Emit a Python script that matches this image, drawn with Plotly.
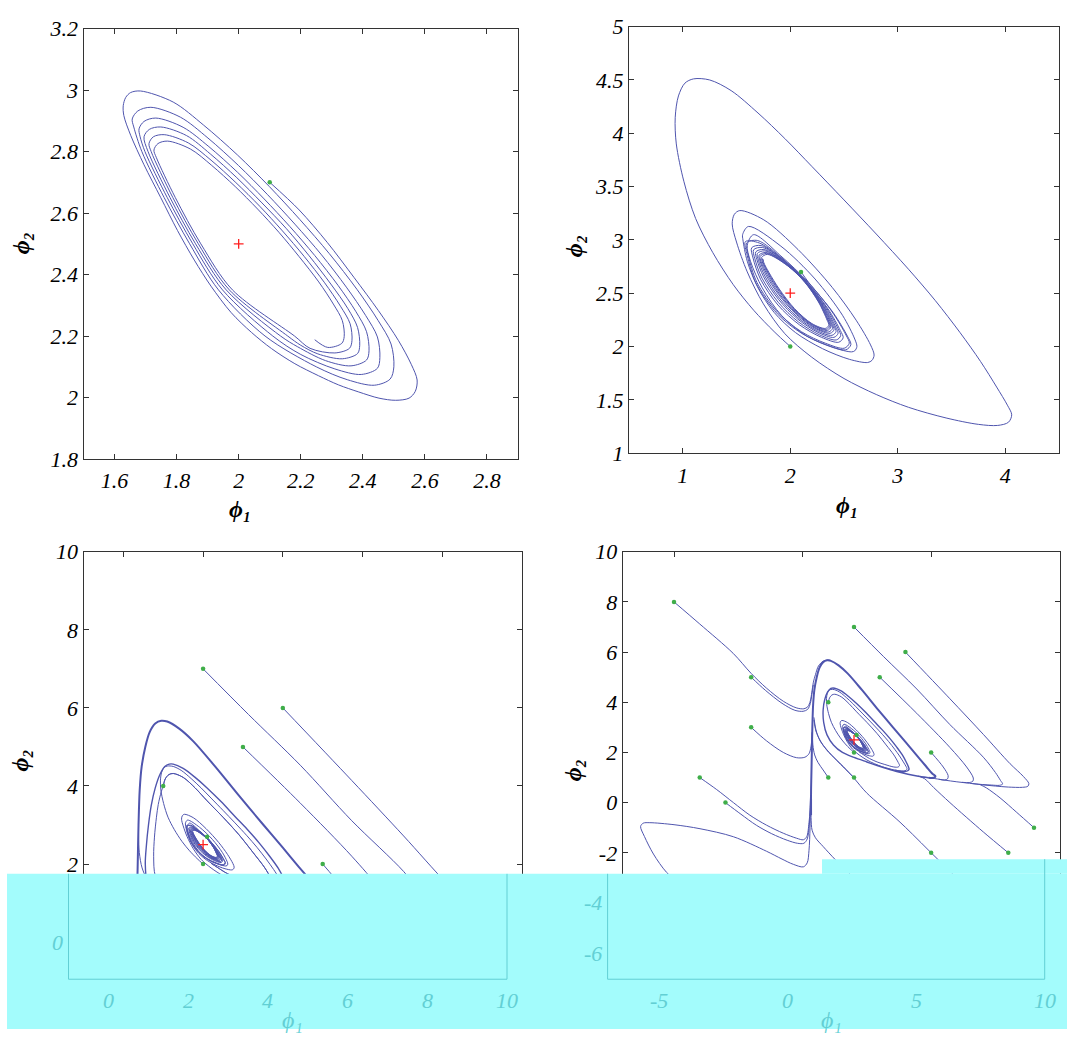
import plotly.graph_objects as go

# ---------------------------------------------------------------------------
# Phase-plane portraits (phi_1, phi_2) of the two-species reaction model.
# Each curve is a list of (phi_1, phi_2) points, green dots are the initial
# states and the red cross is the steady state.
# ---------------------------------------------------------------------------

STEADY_STATE = (2.0, 2.5)

# ---------------- panel (a): one start close to the steady state -------------
A_STARTS = [(2.1, 2.7)]
A_TRAJ = [
    # first sweep from the start point round the widest turn
    (2.100, 2.700), (2.195, 2.610), (2.285, 2.505), (2.372, 2.390), (2.450, 2.283),
    (2.515, 2.185), (2.556, 2.108), (2.575, 2.057), (2.569, 2.020), (2.549, 1.998),
    (2.506, 1.991), (2.452, 1.998), (2.387, 2.018), (2.322, 2.041), (2.257, 2.071),
    (2.181, 2.110), (2.106, 2.159), (2.041, 2.212), (1.976, 2.276), (1.911, 2.362),
    (1.857, 2.447), (1.803, 2.543), (1.749, 2.650), (1.695, 2.757), (1.652, 2.853),
    (1.630, 2.917), (1.628, 2.949), (1.636, 2.976), (1.652, 2.992), (1.684, 2.997),
    (1.789, 2.961), (1.887, 2.886), (1.996, 2.789), (2.099, 2.686), (2.197, 2.579),
    (2.292, 2.468), (2.381, 2.352), (2.449, 2.251), (2.491, 2.174), (2.500, 2.100),
    (2.488, 2.060), (2.437, 2.040),
    # second turn
    (2.350, 2.058), (2.250, 2.100), (2.085, 2.200), (1.935, 2.350), (1.842, 2.500),
    (1.760, 2.650), (1.688, 2.800), (1.662, 2.880), (1.657, 2.906), (1.675, 2.932),
    (1.717, 2.944), (1.812, 2.912), (1.901, 2.844), (1.999, 2.755), (2.092, 2.661),
    (2.181, 2.564), (2.267, 2.464), (2.347, 2.359), (2.409, 2.267), (2.447, 2.197),
    (2.455, 2.130), (2.447, 2.095), (2.395, 2.075),
    # third turn
    (2.310, 2.093), (2.200, 2.140), (2.110, 2.200), (1.948, 2.350), (1.852, 2.500),
    (1.770, 2.650), (1.698, 2.800), (1.682, 2.850), (1.679, 2.874), (1.695, 2.898),
    (1.733, 2.909), (1.821, 2.879), (1.904, 2.816), (1.996, 2.733), (2.082, 2.646),
    (2.165, 2.556), (2.245, 2.462), (2.320, 2.365), (2.378, 2.279), (2.412, 2.214),
    (2.420, 2.152), (2.412, 2.122), (2.362, 2.103),
    # fourth turn
    (2.280, 2.120), (2.190, 2.165), (2.135, 2.200), (1.960, 2.350), (1.861, 2.500),
    (1.779, 2.650), (1.708, 2.800), (1.695, 2.848), (1.712, 2.872), (1.749, 2.880),
    (1.832, 2.852), (1.909, 2.792), (1.994, 2.715), (2.075, 2.633), (2.154, 2.549),
    (2.227, 2.461), (2.297, 2.369), (2.352, 2.289), (2.383, 2.228), (2.390, 2.170),
    (2.383, 2.143), (2.334, 2.126),
    # fifth turn
    (2.255, 2.142), (2.200, 2.170), (2.158, 2.200), (1.970, 2.350), (1.870, 2.500),
    (1.788, 2.650), (1.718, 2.800), (1.711, 2.826), (1.725, 2.848), (1.760, 2.855),
    (1.838, 2.828), (1.911, 2.772), (1.991, 2.699), (2.068, 2.622), (2.141, 2.542),
    (2.211, 2.459), (2.277, 2.373), (2.328, 2.297), (2.359, 2.240), (2.365, 2.185),
    (2.357, 2.160), (2.310, 2.145),
    # sixth turn and end point
    (2.230, 2.160), (2.180, 2.200), (1.980, 2.350), (1.878, 2.500), (1.796, 2.650),
    (1.735, 2.780), (1.727, 2.805), (1.740, 2.826), (1.771, 2.834),
    (1.845, 2.808), (1.913, 2.755), (1.989, 2.686), (2.061, 2.613), (2.130, 2.537),
    (2.195, 2.458), (2.258, 2.376), (2.305, 2.304), (2.334, 2.250), (2.340, 2.198),
    (2.332, 2.176), (2.287, 2.163), (2.245, 2.188),
]

# ---------------- panel (b): starts (2, 2) and (2.1, 2.7) --------------------
B_STARTS = [(2.0, 2.0), (2.1, 2.7)]
B_BIG = [
    (2.00, 2.00), (1.85, 2.14), (1.66, 2.34), (1.47, 2.58), (1.28, 2.88), (1.12, 3.20),
    (1.01, 3.55), (0.94, 3.90), (0.93, 4.15), (0.96, 4.35), (1.02, 4.47), (1.10, 4.51),
    (1.25, 4.50), (1.45, 4.40), (1.70, 4.19), (1.95, 3.95), (2.20, 3.69), (2.50, 3.375),
    (2.80, 3.055), (3.10, 2.725), (3.35, 2.43), (3.58, 2.13), (3.77, 1.86), (3.92, 1.62),
    (4.02, 1.45), (4.06, 1.36), (4.03, 1.29), (3.93, 1.26), (3.75, 1.27), (3.45, 1.33),
    (3.10, 1.43), (2.80, 1.55), (2.50, 1.70), (2.20, 1.90), (1.95, 2.12), (1.75, 2.40),
    (1.60, 2.70), (1.50, 2.98), (1.46, 3.15), (1.48, 3.24),
]
B_MEDIUM = [
    (1.531, 3.275), (1.754, 3.188), (2.072, 2.910), (2.390, 2.555), (2.613, 2.247),
    (2.747, 2.015), (2.780, 1.920), (2.760, 1.870), (2.720, 1.850), (2.550, 1.880),
    (2.300, 1.980), (2.050, 2.130), (1.850, 2.320), (1.700, 2.550), (1.600, 2.800),
    (1.560, 3.000), (1.557, 3.050),
]
B_THIRD = [
    (1.611, 3.126), (1.913, 2.941), (2.231, 2.633), (2.486, 2.293), (2.600, 2.070),
    (2.620, 2.000), (2.600, 1.960), (2.570, 1.950), (2.400, 1.990), (2.150, 2.100),
    (1.920, 2.290), (1.740, 2.550), (1.630, 2.800), (1.600, 2.950),
]
# successive turns inside the attracting band (outer edge -> inner edge)
BAND_0 = [(1.659, 3.049), (1.913, 2.849), (2.168, 2.602), (2.390, 2.324), (2.518, 2.108),
          (2.549, 2.031), (2.502, 1.984), (2.327, 2.031), (2.104, 2.139), (1.881, 2.324),
          (1.690, 2.602), (1.611, 2.849), (1.595, 2.972)]
BAND_1 = [(1.697, 2.994), (1.932, 2.821), (2.158, 2.602), (2.352, 2.352), (2.466, 2.150),
          (2.492, 2.082), (2.450, 2.040), (2.289, 2.087), (2.085, 2.204), (1.886, 2.389),
          (1.724, 2.630), (1.654, 2.830), (1.641, 2.926)]
BAND_2 = [(1.729, 2.947), (1.948, 2.798), (2.150, 2.602), (2.320, 2.375), (2.422, 2.184),
          (2.445, 2.124), (2.406, 2.086), (2.257, 2.133), (2.069, 2.258), (1.890, 2.443),
          (1.752, 2.653), (1.690, 2.815), (1.679, 2.887)]
BAND_3 = [(1.754, 2.910), (1.961, 2.779), (2.144, 2.602), (2.295, 2.394), (2.387, 2.212),
          (2.407, 2.158), (2.371, 2.124), (2.232, 2.170), (2.056, 2.301), (1.893, 2.486),
          (1.774, 2.671), (1.718, 2.803), (1.710, 2.857)]
BAND_4 = [(1.773, 2.882), (1.971, 2.765), (2.139, 2.602), (2.276, 2.408), (2.360, 2.233),
          (2.378, 2.183), (2.345, 2.151), (2.213, 2.198), (2.046, 2.333), (1.895, 2.518),
          (1.791, 2.685), (1.740, 2.793), (1.733, 2.834)]
BAND_5 = [(1.786, 2.864), (1.977, 2.756), (2.136, 2.602), (2.263, 2.417), (2.343, 2.247),
          (2.359, 2.200), (2.327, 2.170), (2.200, 2.216), (2.040, 2.355), (1.897, 2.540),
          (1.802, 2.694), (1.754, 2.787), (1.748, 2.818)]
# second start (2.1, 2.7): first pass just outside the band, then turns inward
B_ENTRY = [(2.100, 2.700), (2.171, 2.602), (2.400, 2.317), (2.532, 2.097), (2.564, 2.017),
           (2.516, 1.969), (2.337, 2.016), (2.109, 2.122), (1.880, 2.307), (1.681, 2.595),
           (1.600, 2.854), (1.583, 2.984)]
BAND_6 = [(1.712, 2.971), (1.940, 2.810), (2.155, 2.602), (2.337, 2.363), (2.445, 2.166),
          (2.469, 2.102), (2.429, 2.062), (2.274, 2.109), (2.077, 2.230), (1.888, 2.415),
          (1.737, 2.641), (1.671, 2.823), (1.659, 2.907)]
BAND_7 = [(1.742, 2.929), (1.955, 2.789), (2.147, 2.602), (2.307, 2.384), (2.404, 2.198),
          (2.426, 2.141), (2.388, 2.105), (2.245, 2.151), (2.062, 2.279), (1.891, 2.464),
          (1.763, 2.662), (1.704, 2.809), (1.694, 2.872)]
BAND_8 = [(1.763, 2.897), (1.965, 2.773), (2.142, 2.602), (2.286, 2.400), (2.374, 2.222),
          (2.393, 2.170), (2.358, 2.137), (2.223, 2.183), (2.052, 2.316), (1.894, 2.501),
          (1.784, 2.677), (1.728, 2.798), (1.720, 2.846)]
BAND_9 = [(1.780, 2.873), (1.974, 2.760), (2.138, 2.602), (2.269, 2.412), (2.352, 2.240),
          (2.369, 2.192), (2.336, 2.161), (2.206, 2.207), (2.043, 2.344), (1.896, 2.529),
          (1.797, 2.689), (1.747, 2.790), (1.741, 2.826)]

# ---------------- panels (c) and (d): wide grid of initial states ------------
C_STARTS = [(2, 7), (4, 6), (3, 5), (1, 4), (5, 2), (2, 2), (2.1, 2.7), (1, 1), (2, 1)]
D_STARTS = [(-5, 8), (-2, 5), (-2, 3), (-4, 1), (-3, 0), (1, 4), (1, 1), (2, 7), (4, 6),
            (3, 5), (2, 2), (2.1, 2.7), (5, 2), (2, 1), (9, -1), (8, -2), (5, -2),
            (-4, -4), (3, -4), (7, -4)]

S_2_7 = [(2, 7), (3.14, 5.83), (4.44, 4.53), (5.73, 3.11), (7.03, 1.81), (7.50, 1.20),
         (7.70, 0.88), (7.78, 0.74), (7.66, 0.69), (7.35, 0.70), (7.00, 0.72), (6.60, 0.76)]
S_4_6 = [(4, 6), (5.73, 4.14), (7.03, 2.72), (8.07, 1.55), (8.59, 1.04), (8.80, 0.76),
         (8.76, 0.65), (8.55, 0.61), (8.00, 0.62), (7.50, 0.66), (7.00, 0.71), (6.50, 0.77),
         (6.00, 0.83), (5.50, 0.90), (5.00, 0.98), (4.60, 1.03)]
S_3_5 = [(3, 5), (4.44, 3.56), (5.73, 2.20), (6.38, 1.42), (6.64, 0.98), (6.62, 0.85),
         (6.48, 0.80), (6.20, 0.81)]
S_5_2 = [(5, 2), (5.47, 1.42), (5.66, 1.08), (5.64, 0.95), (5.52, 0.90), (5.30, 0.93)]
S_1_4 = [(1, 4), (1.05, 4.18), (1.14, 4.29), (1.25, 4.32), (1.50, 4.22), (1.80, 3.95),
         (2.10, 3.62), (2.50, 3.20), (2.90, 2.75), (3.25, 2.30), (3.55, 1.90), (3.72, 1.60),
         (3.77, 1.48), (3.72, 1.42), (3.55, 1.42), (3.20, 1.52), (2.90, 1.62), (2.60, 1.76),
         (2.35, 1.92), (2.20, 2.02)]
S_1_1 = [(1, 1), (0.80, 1.30), (0.60, 1.60), (0.47, 1.90), (0.40, 2.30), (0.38, 2.80)]
# (2, 1): in (c) it climbs into the inner loop through (1, 4), in (d) it joins the rise
C_S_2_1 = [(2, 1), (1.50, 1.10), (1.00, 1.35), (0.80, 1.70), (0.76, 2.20), (0.78, 2.69),
           (0.83, 3.20), (0.875, 3.525), (0.95, 3.85)]
D_S_2_1 = [(2, 1), (1.62, 1.38), (1.33, 1.68), (0.95, 2.10), (0.68, 2.46), (0.52, 2.90),
           (0.44, 3.40)]
# rise along phi_1 ~ 1/3, large excursion, return along the bottom
VERTICAL_LOOP = [
    (0.33, -0.50), (0.33, 0.50), (0.34, 1.00), (0.36, 2.00), (0.38, 3.00), (0.41, 3.90),
    (0.46, 4.50), (0.55, 5.00), (0.66, 5.38), (0.80, 5.60), (0.95, 5.67), (1.10, 5.65),
    (1.40, 5.47), (1.75, 5.15), (2.30, 4.50), (2.90, 3.75), (3.50, 3.02), (4.00, 2.42),
    (4.40, 1.93), (4.80, 1.45), (5.05, 1.15), (5.17, 1.05), (5.10, 0.99), (4.90, 0.99),
]
RETURN_UPPER = [
    (1.25, 4.56), (1.50, 4.45), (1.80, 4.22), (2.10, 3.95), (2.45, 3.60), (2.80, 3.22),
    (3.10, 2.90), (3.40, 2.55), (3.67, 2.20), (3.88, 1.90), (4.03, 1.62), (4.12, 1.42),
    (4.14, 1.33), (4.09, 1.27), (3.98, 1.24), (3.80, 1.25), (3.60, 1.29),
]
C_RETURN_LOWER = [
    (4.90, 0.99), (4.50, 1.00), (3.80, 0.95), (3.00, 0.85), (2.00, 0.80), (1.30, 0.85),
    (0.80, 1.10), (0.60, 1.50), (0.55, 2.00), (0.58, 2.50), (0.63, 3.00), (0.70, 3.50),
    (0.80, 3.95), (0.92, 4.30), (1.04, 4.50), (1.15, 4.56),
]
D_RETURN_LOWER = [
    (4.90, 0.99), (4.50, 1.05), (4.10, 1.13), (3.70, 1.23), (3.30, 1.35), (2.90, 1.48),
    (2.50, 1.62), (2.00, 1.80), (1.55, 2.00), (1.20, 2.30), (0.95, 2.70), (0.82, 3.20),
    (0.80, 3.70), (0.86, 4.10), (0.97, 4.40), (1.10, 4.55),
]
# panel (d) only: starts with negative phi_1 or phi_2
D_M5_8 = [(-5, 8), (-4.0, 7.12), (-2.7, 5.95), (-2.0, 5.15), (-1.4, 4.56), (-0.75, 4.04),
          (-0.25, 3.78), (0.05, 3.74), (0.20, 3.82), (0.30, 4.05), (0.36, 4.40), (0.42, 4.80),
          (0.50, 5.10), (0.62, 5.45), (0.80, 5.64), (0.95, 5.69), (1.10, 5.67)]
D_M2_5 = [(-2, 5), (-1.45, 4.48), (-0.8, 3.96), (-0.3, 3.68), (0.02, 3.64), (0.20, 3.72),
          (0.30, 3.95), (0.36, 4.30), (0.42, 4.70)]
D_M2_3 = [(-2, 3), (-1.4, 2.46), (-0.75, 2.00), (-0.23, 1.79), (0.09, 1.81), (0.25, 1.95),
          (0.33, 2.25), (0.37, 2.80)]
D_M4_1 = [(-4, 1), (-3.34, 0.52), (-2.69, 0.0), (-2.05, -0.5), (-1.4, -0.9), (-0.75, -1.22),
          (-0.23, -1.42), (0.03, -1.48), (0.16, -1.36), (0.25, -0.80), (0.29, -0.30),
          (0.31, 0.30)]
D_M3_0 = [(-3, 0), (-2.4, -0.46), (-1.8, -0.9), (-1.2, -1.24), (-0.6, -1.5), (-0.2, -1.62),
          (0.05, -1.62), (0.18, -1.45), (0.26, -0.90), (0.29, -0.40), (0.31, 0.30)]
D_M4_M4 = [(-4, -4), (-4.6, -3.4), (-5.29, -2.78), (-5.8, -2.05), (-6.15, -1.35),
           (-6.3, -0.95), (-6.2, -0.82), (-5.94, -0.80), (-5.0, -0.88), (-3.99, -1.04),
           (-2.69, -1.36), (-1.4, -1.94), (-0.8, -2.25), (-0.36, -2.46), (0.03, -2.56),
           (0.18, -2.40), (0.25, -1.90), (0.29, -1.00), (0.31, 0.0)]
D_3_M4 = [(3, -4), (2.3, -3.3), (1.7, -2.7), (1.26, -2.26), (0.8, -1.75), (0.5, -1.4),
          (0.37, -1.1), (0.33, -0.6), (0.33, 0.0)]
D_5_M2 = [(5, -2), (3.79, -0.78), (2.49, 0.39), (2.02, 0.95), (1.6, 1.42), (1.3, 1.72),
          (0.95, 2.08), (0.7, 2.45), (0.52, 2.85), (0.44, 3.30)]
D_7_M4 = [(7, -4), (6, -3), (5, -2)]
D_8_M2 = [(8, -2), (7.03, -1.17), (5.73, 0.0), (5.1, 0.6), (4.75, 0.95), (4.5, 1.06)]
D_9_M1 = [(9, -1), (8.33, -0.39), (7.68, 0.19), (7.16, 0.58), (6.9, 0.72)]

# ---------------- axes ------------------------------------------------------
A_XTICKS, A_XTEXT = [1.6, 1.8, 2.0, 2.2, 2.4, 2.6, 2.8], ['1.6', '1.8', '2', '2.2', '2.4', '2.6', '2.8']
A_YTICKS, A_YTEXT = [1.8, 2.0, 2.2, 2.4, 2.6, 2.8, 3.0, 3.2], ['1.8', '2', '2.2', '2.4', '2.6', '2.8', '3', '3.2']
B_XTICKS, B_XTEXT = [1, 2, 3, 4], ['1', '2', '3', '4']
B_YTICKS, B_YTEXT = [1, 1.5, 2, 2.5, 3, 3.5, 4, 4.5, 5], ['1', '1.5', '2', '2.5', '3', '3.5', '4', '4.5', '5']
C_XTICKS, C_XTEXT = [0, 2, 4, 6, 8, 10], ['0', '2', '4', '6', '8', '10']
C_YTICKS, C_YTEXT = [2, 4, 6, 8, 10], ['2', '4', '6', '8', '10']
C_YFADED, C_YFADED_TEXT = [0], ['0']
D_XTICKS, D_XTEXT = [-5, 0, 5, 10], ['-5', '0', '5', '10']
D_YTICKS, D_YTEXT = [-2, 0, 2, 4, 6, 8, 10], ['-2', '0', '2', '4', '6', '8', '10']
D_YFADED, D_YFADED_TEXT = [-6, -4], ['-6', '-4']
PHI1, PHI2 = 'ϕ₁', 'ϕ₂'

W, H = 1067, 1042
LINE = '#4f55ae'
GREEN = '#3fae49'
RED = '#ff2020'
AXIS = '#333333'
CYAN = '#a3fcfc'
TEAL = '#62cfd4'
FONT = 'Liberation Serif'

# plot boxes in pixels: (left, right), (top, bottom)
PANELS = {
    '':  dict(px=(83.5, 518.0), py=(17.0, 458.0), xr=[1.5, 2.9], yr=[1.8, 3.2],
              xt=(A_XTICKS, A_XTEXT), yt=(A_YTICKS, A_YTEXT), xlabels=True),
    '2': dict(px=(629.0, 1059.0), py=(15.0, 452.0), xr=[0.5, 4.5], yr=[1.0, 5.0],
              xt=(B_XTICKS, B_XTEXT), yt=(B_YTICKS, B_YTEXT), xlabels=True),
    '3': dict(px=(83.5, 522.0), py=(553.0, 993.0), xr=[-1, 10], yr=[-1, 10],
              xt=(C_XTICKS, C_XTEXT), yt=(C_YTICKS, C_YTEXT), xlabels=False,
              faded_y=(C_YFADED, C_YFADED_TEXT)),
    '4': dict(px=(622.6, 1059.7), py=(553.0, 990.0), xr=[-7, 10], yr=[-7, 10],
              xt=(D_XTICKS, D_XTEXT), yt=(D_YTICKS, D_YTEXT), xlabels=False,
              faded_y=(D_YFADED, D_YFADED_TEXT)),
}

fig = go.Figure()


def curve(pts, ax, width=1.0):
    xs, ys = zip(*pts)
    fig.add_trace(go.Scatter(
        x=list(xs), y=list(ys), mode='lines', xaxis='x' + ax, yaxis='y' + ax,
        line=dict(color=LINE, width=width, shape='spline', smoothing=0.9),
        hoverinfo='skip', showlegend=False))


def markers(starts, ax):
    xs, ys = zip(*starts)
    fig.add_trace(go.Scatter(
        x=list(xs), y=list(ys), mode='markers', xaxis='x' + ax, yaxis='y' + ax,
        marker=dict(symbol='circle', size=4.5, color=GREEN),
        hoverinfo='skip', showlegend=False))
    fig.add_trace(go.Scatter(
        x=[STEADY_STATE[0]], y=[STEADY_STATE[1]], mode='markers',
        xaxis='x' + ax, yaxis='y' + ax,
        marker=dict(symbol='cross-thin', size=7, color=RED, line=dict(color=RED, width=1.3)),
        hoverinfo='skip', showlegend=False))


INNER_SPIRAL = B_BIG + B_MEDIUM + B_THIRD + BAND_0 + BAND_1 + BAND_2 + BAND_3 + BAND_4 + BAND_5
ENTRY_SPIRAL = B_ENTRY + BAND_6 + BAND_7 + BAND_8 + BAND_9

# (a)
curve(A_TRAJ, '')
markers(A_STARTS, '')

# (b)
curve(INNER_SPIRAL, '2')
curve(ENTRY_SPIRAL, '2')
markers(B_STARTS, '2')

# (c) and (d) share the trajectories launched from the positive quadrant
for ax in ('3', '4'):
    curve(INNER_SPIRAL, ax)
    curve(ENTRY_SPIRAL, ax)
    for path in (S_2_7, S_4_6, S_3_5, S_5_2, S_1_4, S_1_1):
        curve(path, ax)
    curve(VERTICAL_LOOP, ax, width=2.0)

curve(C_S_2_1 + S_1_4, '3')
curve(C_RETURN_LOWER + RETURN_UPPER, '3', width=1.4)
curve(D_S_2_1, '4')
curve(D_RETURN_LOWER + RETURN_UPPER, '4', width=1.4)

for path in (D_M5_8, D_M2_5, D_M2_3, D_M4_1, D_M3_0, D_M4_M4, D_3_M4, D_5_M2,
             D_7_M4, D_8_M2, D_9_M1):
    curve(path, '4')

markers(C_STARTS, '3')
markers(D_STARTS, '4')

# ---------------- axes layout ----------------------------------------------
layout = dict(width=W, height=H, margin=dict(l=0, r=0, t=0, b=0),
              paper_bgcolor='white', plot_bgcolor='white', showlegend=False)
tick_font = dict(family=FONT, size=22, color='black', style='italic')
for ax, p in PANELS.items():
    common = dict(showline=True, linecolor=AXIS, linewidth=1, mirror='ticks',
                  ticks='inside', ticklen=5, tickcolor=AXIS, showgrid=False,
                  zeroline=False, tickfont=tick_font, fixedrange=True)
    layout['xaxis' + ax] = dict(
        common, domain=[p['px'][0] / W, p['px'][1] / W], range=p['xr'],
        tickmode='array', tickvals=p['xt'][0], ticktext=p['xt'][1],
        showticklabels=p['xlabels'], anchor='y' + ax, ticklabelstandoff=2)
    layout['yaxis' + ax] = dict(
        common, domain=[1 - p['py'][1] / H, 1 - p['py'][0] / H], range=p['yr'],
        tickmode='array', tickvals=p['yt'][0], ticktext=p['yt'][1],
        anchor='x' + ax)
fig.update_layout(**layout)


def note(text, x, y, color='black', size=24, angle=0, anchor='center', weight='normal'):
    fig.add_annotation(
        text=text, x=x / W, y=1 - y / H, xref='paper', yref='paper',
        showarrow=False, textangle=angle, xanchor=anchor, yanchor='middle',
        font=dict(family=FONT, size=size, color=color, style='italic', weight=weight))


# axis titles of the upper row and the y titles of the lower row
note(PHI1, 240, 509, weight='bold')
note(PHI2, 21, 237, angle=-90, weight='bold')
note(PHI1, 847, 505, weight='bold')
note(PHI2, 574, 240, angle=-90, weight='bold')
note(PHI2, 20, 767, angle=-90, weight='bold')
note(PHI2, 573, 777, angle=-90, weight='bold')

# ---------------- cyan band over the lower part ------------------------------
shapes = [
    dict(type='rect', xref='paper', yref='paper', x0=7 / W, x1=1, y0=0, y1=1 - 883 / H,
         fillcolor=CYAN, line=dict(width=0), layer='above'),
    dict(type='rect', xref='paper', yref='paper', x0=822 / W, x1=1, y0=1 - 883 / H,
         y1=1 - 868 / H, fillcolor=CYAN, line=dict(width=0), layer='above'),
]
SHIFT = -15.0   # the faded copy of the lower axes sits a little to the left
copy_bottom = 991.0
for ax in ('3', '4'):
    p = PANELS[ax]
    top = 883.0
    left, right = p['px'][0] + SHIFT, p['px'][1] + SHIFT
    right_top = 868.0 if ax == '4' else top
    for x0, y0, x1, y1 in ((left, top, left, copy_bottom),
                           (right, right_top, right, copy_bottom),
                           (left, copy_bottom, right, copy_bottom)):
        shapes.append(dict(type='line', xref='paper', yref='paper',
                           x0=x0 / W, y0=1 - y0 / H, x1=x1 / W, y1=1 - y1 / H,
                           line=dict(color=TEAL, width=1), layer='above'))
    # faded tick labels of the copy
    xr = p['xr']
    for v, t in zip(*p['xt']):
        xpix = p['px'][0] + (v - xr[0]) / (xr[1] - xr[0]) * (p['px'][1] - p['px'][0]) + SHIFT
        note(t, xpix, 1013, color=TEAL, size=22)
    yr = p['yr']
    for v, t in zip(*p['faded_y']):
        ypix = p['py'][1] - (v - yr[0]) / (yr[1] - yr[0]) * (p['py'][1] - p['py'][0])
        note(t, left - 4, ypix, color=TEAL, size=22, anchor='right')
    note(PHI1, (left + right) / 2 + 5, 1033, color=TEAL)

fig.update_layout(shapes=shapes)
fig.write_html('out.html', post_script="document.body.style.margin='0px';"
                                       "document.body.style.overflow='hidden';")
